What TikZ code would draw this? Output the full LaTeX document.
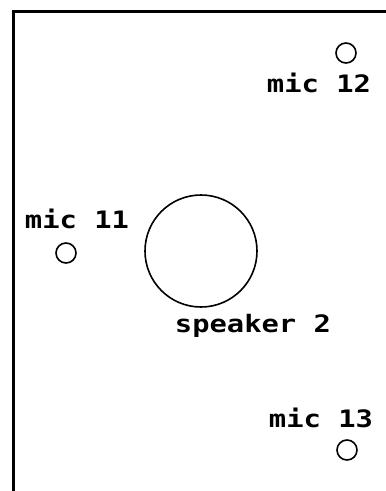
\documentclass[tikz,border=0pt]{standalone}
\usepackage{fontspec}
\newfontfamily\pixfont[FakeStretch=1.2]{DejaVu Sans Mono Bold}
\usepackage{tikz}

\tikzset{
    mic/.style={draw, circle, line width=1.6pt, minimum size=20pt, inner sep=0pt},
    spk/.style={draw, circle, line width=1.6pt, minimum size=112pt, inner sep=0pt},
    lbl/.style={anchor=base, inner sep=0pt, font=\pixfont\fontsize{24}{24}\selectfont}
}

\begin{document}
\begin{tikzpicture}[x=1pt, y=-1pt]
    \useasboundingbox (0,0) rectangle (386,491);
    \draw[line width=3pt] (13.5,491) -- (13.5,11.5) -- (386,11.5);
    \node[mic] (mic12) at (346,53) {};
    \node[lbl] (mic12lbl) at (319,92) {mic 12};
    \node[lbl] (mic11lbl) at (77,228) {mic 11};
    \node[mic] (mic11) at (66,253) {};
    \node[spk] (spk2) at (201,251) {};
    \node[lbl] (spk2lbl) at (253,332) {speaker 2};
    \node[lbl] (mic13lbl) at (321,427) {mic 13};
    \node[mic] (mic13) at (347,450) {};
\end{tikzpicture}
\end{document}
